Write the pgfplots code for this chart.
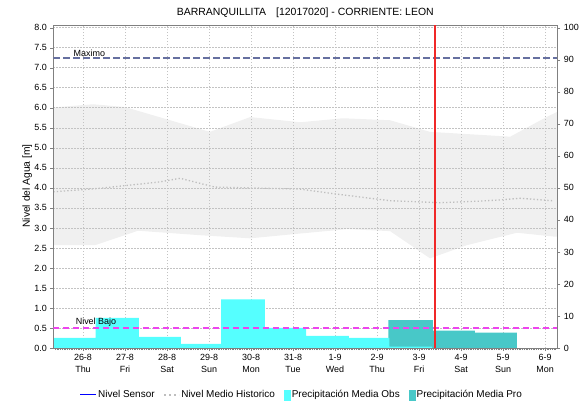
\documentclass[border=0pt]{standalone}
\usepackage{fontspec}
\setmainfont{Liberation Sans}
\usepackage{pgfplots}
\pgfplotsset{compat=1.18}
\definecolor{obs}{RGB}{85,255,255}
\definecolor{pro}{RGB}{72,200,200}
\definecolor{bandc}{RGB}{240,240,240}
\definecolor{gridc}{RGB}{195,195,195}
\definecolor{framec}{RGB}{128,128,128}
\definecolor{medc}{RGB}{190,190,190}
\definecolor{maxc}{RGB}{102,112,160}
\definecolor{bajoc}{RGB}{238,68,238}
\definecolor{sensorred}{RGB}{240,40,40}
\definecolor{sensorblue}{RGB}{0,0,255}
\begin{document}
\begin{tikzpicture}
\pgfplotsset{base/.style={scale only axis, width=504bp, height=323bp, at={(0,0)}, anchor=south west, xmin=-0.707, xmax=11.29,
  axis line style={draw=framec}, tick style={draw=framec}, tick align=outside,
  major tick length=3bp, minor tick length=2bp,
  ticklabel style={font=\fontsize{9}{10}\selectfont},
  /pgf/number format/assume math mode=true}}
% ---- axis 1: water level (m), grid, band, median
\begin{axis}[base, ymin=0, ymax=8.07, axis on top,
  xtick={0,...,11},
  xticklabels={{26-8\\Thu},{27-8\\Fri},{28-8\\Sat},{29-8\\Sun},{30-8\\Mon},{31-8\\Tue},{1-9\\Wed},{2-9\\Thu},{3-9\\Fri},{4-9\\Sat},{5-9\\Sun},{6-9\\Mon}},
  xticklabel style={align=center, font=\fontsize{9}{11.5}\selectfont},
  minor xtick={-0.6666667,-0.625,...,11.28},
  minor tick style={draw=framec, line width=0.4bp},
  ytick={0,0.5,...,8},
  yticklabel style={/pgf/number format/.cd, fixed, fixed zerofill, precision=1},
  xtick pos=bottom, ytick pos=left,
  grid=major,
  major grid style={draw=gridc, line width=0.7bp, dash pattern=on 1.5bp off 1.5bp}]
\addplot[fill=bandc, draw=none] coordinates {(-0.707,6.01)(0.24,6.09)(1.0,6.02)(3.02,5.40)(3.98,5.77)(5.17,5.64)(6.19,5.74)(7.31,5.69)(8.26,5.40)(10.17,5.28)(11.05,5.78)(11.29,5.90)
  (11.29,2.78)(11.24,2.78)(10.33,2.88)(9.14,2.57)(8.26,2.24)(7.31,2.92)(6.29,2.97)(5.17,2.86)(3.98,2.74)(2.76,2.82)(1.31,2.93)(0.29,2.57)(-0.707,2.57)};
\addplot[medc, line width=1.3bp, dash pattern=on 1.3bp off 2.2bp] coordinates {(-0.707,3.90)(0.40,3.99)(1.12,4.07)(1.83,4.15)(2.31,4.24)(3.14,4.02)(5.17,3.97)(6.0,3.85)(7.31,3.68)(8.5,3.63)(9.45,3.67)(9.93,3.70)(10.4,3.74)(11.17,3.68)};
\end{axis}
% ---- axis 2: precipitation (mm), right axis
\begin{axis}[base, ymin=0, ymax=100.85, axis x line=none, axis y line*=right,
  ytick={0,10,...,100}, ytick pos=right]
\addplot[fill=pro, draw=none, const plot mark left] coordinates {(7.27,8.7)(8.33,5.4)(9.33,4.8)(10.33,4.8)} \closedcycle;
\addplot[fill=obs, draw=none, const plot mark left] coordinates {(-0.707,3.2)(0.3,9.4)(1.33,3.5)(2.33,1.25)(3.29,15.2)(4.33,6.3)(5.31,3.8)(6.33,3.2)(7.29,0.4)(8.31,0.4)} \closedcycle;
\end{axis}
% ---- axis 3: thresholds, sensor time, legend
\begin{axis}[base, ymin=0, ymax=8.07, xtick=\empty, ytick=\empty,
  legend columns=-1,
  legend style={at={(0.4925,-0.1455)}, anchor=center, draw=none, fill=none,
    font=\fontsize{10}{11}\selectfont,
    nodes={inner xsep=1.5bp},
    /tikz/every even column/.append style={column sep=7.5bp}},
  legend cell align=left]
\addlegendimage{legend image code/.code={\draw[sensorblue, line width=1bp] (0bp,0bp) -- (16bp,0bp);}}
\addlegendentry{Nivel Sensor}
\addlegendimage{legend image code/.code={\draw[medc, line width=1.2bp, dash pattern=on 2bp off 3bp] (0bp,0bp) -- (15bp,0bp);}}
\addlegendentry{Nivel Medio Historico}
\addlegendimage{legend image code/.code={\fill[obs] (6bp,-5bp) rectangle (12bp,5bp);}}
\addlegendentry{Precipitación Media Obs}
\addlegendimage{legend image code/.code={\fill[pro] (8bp,-5bp) rectangle (14bp,5bp);}}
\addlegendentry{Precipitación Media Pro}
\addplot[maxc, line width=1.7bp, dash pattern=on 7bp off 3bp] coordinates {(-0.707,7.25)(11.29,7.25)};
\addplot[bajoc, line width=1.7bp, dash pattern=on 6bp off 4bp] coordinates {(-0.707,0.5)(11.29,0.5)};
\addplot[color=sensorred, solid, line width=1.3bp] coordinates {(8.38,0) (8.38,8.07)};
\node[anchor=south west, inner sep=1bp, font=\fontsize{9}{10}\selectfont] at (axis cs:-0.25,7.25) {Maximo};
\node[anchor=south west, inner sep=1bp, font=\fontsize{9}{10}\selectfont] at (axis cs:-0.2,0.5) {Nivel Bajo};
\end{axis}
\node[rotate=90, font=\fontsize{10.3}{11}\selectfont] at (-26bp,162bp) {Nivel del Agua [m]};
\node[font=\fontsize{10.5}{12}\selectfont] at (252bp,335.5bp) {BARRANQUILLITA\hspace{10bp}[12017020] - CORRIENTE: LEON};
\pgfresetboundingbox
\path[use as bounding box] (-53.3bp,-53bp) rectangle (531.7bp,348bp);
\end{tikzpicture}
\end{document}
